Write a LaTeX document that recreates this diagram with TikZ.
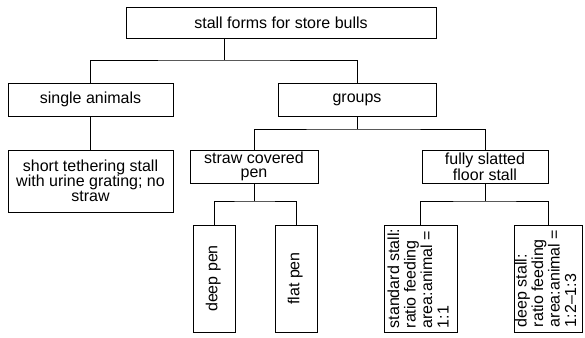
\documentclass[tikz,border=0pt]{standalone}
\usepackage{fontspec}
\usepackage{graphicx}
\setmainfont{Liberation Sans}
\tikzset{
  box/.style={draw, line width=0.9pt, inner sep=0pt, align=center,
    font=\fontsize{16}{14.5}\selectfont},
  link/.style={line width=0.9pt},
}
\newcommand{\vtext}[1]{\rotatebox{90}{\fontsize{16}{16.5}\selectfont\begin{tabular}{@{}l@{}}#1\end{tabular}}}
\begin{document}
\begin{tikzpicture}[x=1pt,y=-1pt]
\useasboundingbox (0,0) rectangle (585,337);
\node[box, minimum width=310pt, minimum height=31pt] (top) at (281,22.5) {stall forms for store bulls};
\node[box, minimum width=165pt, minimum height=33pt] (single) at (90.5,99.5) {single animals};
\node[box, minimum width=158pt, minimum height=33pt] (groups) at (357,99.5) {groups};
\node[box, minimum width=165pt, minimum height=62pt, font=\fontsize{16}{15}\selectfont] (short) at (90.5,181) {short tethering stall\\with urine grating; no\\straw};
\node[box, minimum width=128pt, minimum height=33pt] (straw) at (254,166.5) {straw covered\\pen};
\node[box, minimum width=126pt, minimum height=33pt] (slatted) at (485,166.5) {fully slatted\\floor stall};
\node[box, minimum width=42pt, minimum height=107pt] (deeppen) at (214,278.5) {\vtext{deep pen}};
\node[box, minimum width=42pt, minimum height=107pt] (flatpen) at (296,278.5) {\vtext{flat pen}};
\node[box, minimum width=73pt, minimum height=107pt] (standard) at (420.5,278.5) {\vtext{standard stall:\\ratio feeding\\area:animal =\\1:1}};
\node[box, minimum width=68pt, minimum height=107pt] (deepstall) at (548,278.5) {\vtext{deep stall:\\ratio feeding\\area:animal =\\1:2--1:3}};
\coordinate (j1) at (224,60);
\coordinate (j2) at (357,129);
\coordinate (j3) at (254,201);
\coordinate (j4) at (485,201);
\draw[link] (top.south -| j1) -- (j1);
\draw[link] (single.north) |- (j1) -| (groups.north);
\draw[link] (single.south) -- (short.north);
\draw[link] (groups.south) -- (j2);
\draw[link] (straw.north) |- (j2) -| (slatted.north);
\draw[link] (straw.south) -- (j3);
\draw[link] (deeppen.north) |- (j3) -| (flatpen.north);
\draw[link] (slatted.south) -- (j4);
\draw[link] (standard.north) |- (j4) -| (deepstall.north);
\end{tikzpicture}
\end{document}
